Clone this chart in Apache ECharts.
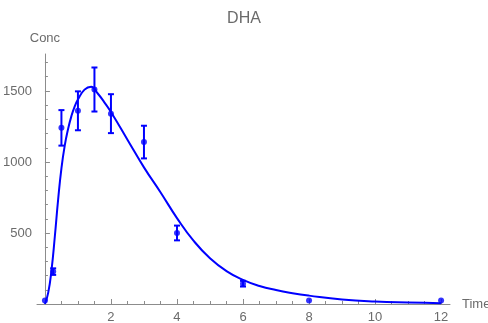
<!DOCTYPE html>
<html>
<head>
<meta charset="utf-8">
<script src="https://cdn.jsdelivr.net/npm/echarts@6/dist/echarts.min.js"></script>
<style>html,body{margin:0;padding:0;background:#fff}#c{width:488px;height:323px}</style>
</head>
<body>
<div id="c"></div>
<script>
// Observed data (time, mean concentration, error half-width)
const times = [0, 0.25, 0.5, 1, 1.5, 2, 3, 4, 6, 8, 12];
const means = [25, 228, 1240, 1360, 1510, 1340, 1140, 500, 143, 25, 25];
const errs  = [0, 23, 125, 137, 155, 137, 115, 52, 20, 0, 0];

// Fitted curve
const curveT = [0, 0.1, 0.2, 0.3, 0.4, 0.5, 0.6, 0.7, 0.8, 0.9, 1.0, 1.2, 1.4, 1.6, 1.8, 2.0, 2.5, 3.0, 3.5, 4.0, 4.5, 5.0, 5.5, 6.0, 6.5, 7.0, 7.5, 8.0, 9.0, 10.0, 11.0, 12.0];
const curveC = [0, 80, 240, 475, 735, 955, 1115, 1230, 1321, 1390, 1439, 1509, 1530, 1482, 1420, 1352, 1157, 962, 787, 605, 446, 322, 232, 170, 127, 98, 76, 59, 32, 17, 10, 6];

// Tick labels
const xTickLabels = [2, 4, 6, 8, 10, 12];
const yTickLabels = [500, 1000, 1500];
const xMinorTicks = [0.5, 1, 1.5, 2.5, 3, 3.5, 4.5, 5, 5.5, 6.5, 7, 7.5, 8.5, 9, 9.5, 10.5, 11, 11.5];
const yMinorTicks = [100, 200, 300, 400, 600, 700, 800, 900, 1100, 1200, 1300, 1400, 1600, 1700];

const BLUE = '#0000ff';
const AXIS = '#8c8c8c';
const TEXT = '#6b6b6b';
const FONT = 'Liberation Sans, Arial, sans-serif';

const points = times.map((t, i) => [t, means[i]]);
const bars = times.map((t, i) => [t, means[i], means[i] - errs[i], means[i] + errs[i]]).filter((d, i) => errs[i] > 0);
const curve = curveT.map((t, i) => [t, curveC[i]]);
const plain = v => String(v);

const chart = echarts.init(document.getElementById('c'), null, {renderer: 'canvas'});
chart.setOption({
  animation: false,
  title: {
    text: 'DHA', left: 'center', top: 11, padding: 0,
    textStyle: {color: TEXT, fontSize: 16, fontWeight: 'normal', fontFamily: FONT}
  },
  grid: {left: 37, top: 54, width: 413, height: 250, containLabel: false, outerBoundsMode: 'none'},
  xAxis: [{
    type: 'value', position: 'bottom', min: -0.24, max: 12.27,
    name: 'Time', nameLocation: 'end', nameGap: 12,
    nameTextStyle: {color: TEXT, fontSize: 13, fontFamily: FONT},
    axisLine: {onZero: true, lineStyle: {color: AXIS, width: 1}},
    axisTick: {show: true, inside: true, length: 5, customValues: xTickLabels, lineStyle: {color: AXIS}},
    axisLabel: {show: true, customValues: xTickLabels, formatter: plain, margin: 7, color: TEXT, fontSize: 13, fontFamily: FONT},
    splitLine: {show: false}
  }, {
    type: 'value', position: 'bottom', min: -0.24, max: 12.27,
    axisLine: {show: false, onZero: true},
    axisTick: {show: true, inside: true, length: 3, customValues: xMinorTicks, lineStyle: {color: AXIS}},
    axisLabel: {show: false},
    splitLine: {show: false}
  }],
  yAxis: [{
    type: 'value', position: 'left', min: 0, max: 1760,
    name: 'Conc', nameLocation: 'end', nameGap: 9,
    nameTextStyle: {color: TEXT, fontSize: 13, fontFamily: FONT},
    axisLine: {show: true, onZero: true, lineStyle: {color: AXIS, width: 1}},
    axisTick: {show: true, inside: true, length: 5, customValues: yTickLabels, lineStyle: {color: AXIS}},
    axisLabel: {show: true, customValues: yTickLabels, formatter: plain, margin: 5, color: TEXT, fontSize: 13, fontFamily: FONT},
    splitLine: {show: false}
  }, {
    type: 'value', position: 'left', min: 0, max: 1760,
    axisLine: {show: false, onZero: true},
    axisTick: {show: true, inside: true, length: 3, customValues: yMinorTicks, lineStyle: {color: AXIS}},
    axisLabel: {show: false},
    splitLine: {show: false}
  }],
  series: [{
    type: 'line', xAxisIndex: 0, yAxisIndex: 0, data: curve,
    smooth: 0.5, showSymbol: false, symbol: 'none',
    lineStyle: {color: BLUE, width: 2}, z: 2
  }, {
    type: 'custom', xAxisIndex: 0, yAxisIndex: 0, data: bars, z: 3,
    renderItem: function (params, api) {
      const x = api.value(0);
      const top = api.coord([x, api.value(3)]);
      const bot = api.coord([x, api.value(2)]);
      const hw = 3;
      const st = {stroke: BLUE, lineWidth: 2};
      return {type: 'group', children: [
        {type: 'line', shape: {x1: top[0], y1: top[1], x2: bot[0], y2: bot[1]}, style: st},
        {type: 'line', shape: {x1: top[0] - hw, y1: top[1], x2: top[0] + hw, y2: top[1]}, style: st},
        {type: 'line', shape: {x1: bot[0] - hw, y1: bot[1], x2: bot[0] + hw, y2: bot[1]}, style: st}
      ]};
    }
  }, {
    type: 'scatter', xAxisIndex: 0, yAxisIndex: 0, data: points,
    symbol: 'circle', symbolSize: 6, itemStyle: {color: BLUE}, z: 4
  }]
});
</script>
</body>
</html>
